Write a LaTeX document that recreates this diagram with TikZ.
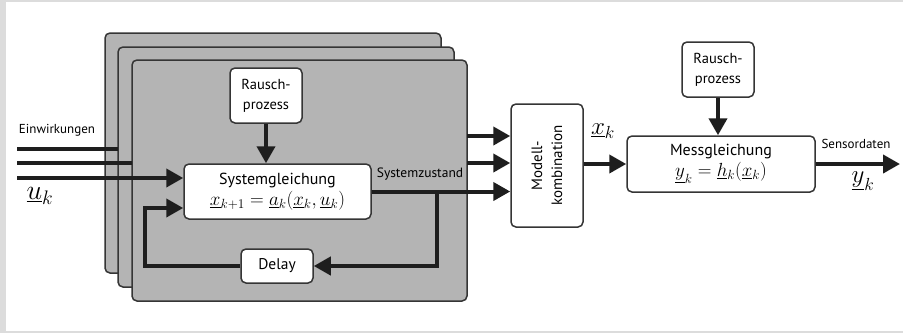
\RequirePackage{fix-cm}
\documentclass[tikz,border=0pt]{standalone}
\usepackage{fontspec}
\setmainfont{PT Sans}
\usetikzlibrary{arrows.meta}
\definecolor{frame}{HTML}{DCDCDC}
\definecolor{stackfill}{HTML}{B4B4B4}
\definecolor{ink}{HTML}{1E1E1E}
\tikzset{
  stackbox/.style={draw=ink!90, fill=stackfill, line width=1.5pt, rounded corners=5pt},
  blk/.style={draw=ink!90, fill=white, line width=1.5pt, rounded corners=5pt, align=center, inner sep=0pt},
  conn/.style={draw=ink, line width=4pt},
  arr/.style={conn, -{Triangle[length=17pt,width=18pt]}},
  lbl/.style={font=\fontsize{13}{15}\selectfont, inner sep=0pt},
  bigmath/.style={font=\fontsize{28}{30}\selectfont, inner sep=0pt}
}
\newcommand{\eqsize}{\fontsize{19}{21}\selectfont}
\begin{document}
\begin{tikzpicture}[x=1pt,y=-1pt]
\useasboundingbox (0,0) rectangle (903,333);
\fill[frame] (0,0) rectangle (903,333);
\fill[white] (6,2) rectangle (903,331);
% stacked boxes
\draw[stackbox] (105,33) rectangle (441,273);
\draw[stackbox] (118,47) rectangle (454,287);
\draw[stackbox] (132,60) rectangle (467,301);
% blocks
\node[blk, minimum width=72pt, minimum height=55pt, font=\fontsize{14.5}{20}\selectfont] (r1) at (266,95.5) {Rausch-\\prozess};
\node[blk, minimum width=187pt, minimum height=55pt, font=\fontsize{16}{21}\selectfont] (sys) at (277.5,191.5) {Systemgleichung\\{\eqsize$\underline{x}_{k+1}=\underline{a}_k(\underline{x}_k,\underline{u}_k)$}};
\node[blk, minimum width=72pt, minimum height=34pt, font=\fontsize{15.5}{17}\selectfont] (delay) at (277,266) {Delay};
\node[blk, minimum width=72pt, minimum height=123pt] (mod) at (547,165.5) {};
\node[rotate=90, align=center, font=\fontsize{15}{20}\selectfont, inner sep=0pt] (modt) at (mod.center) {Modell-\\kombination};
\node[blk, minimum width=188pt, minimum height=56pt, font=\fontsize{16}{21}\selectfont] (mess) at (721,164) {Messgleichung\\{\eqsize$\underline{y}_k=\underline{h}_k(\underline{x}_k)$}};
\node[blk, minimum width=72pt, minimum height=55pt, font=\fontsize{14.5}{20}\selectfont] (r2) at (718,69.5) {Rausch-\\prozess};
% labels
\node[lbl] (einw) at (57,130) {Einwirkungen};
\node[bigmath] (uk) at (40,196) {$\underline{u}_k$};
\node[lbl, font=\fontsize{13.5}{15}\selectfont] (sz) at (420,174) {Systemzustand};
\node[bigmath, font=\fontsize{25}{27}\selectfont] (xk) at (603,131) {$\underline{x}_k$};
\node[lbl] (sd) at (856,144) {Sensordaten};
\node[bigmath, font=\fontsize{25}{27}\selectfont] (yk) at (863,181) {$\underline{y}_k$};
% coordinates
\coordinate (in1) at (17,149);
\coordinate (in1e) at (118,149);
\coordinate (in2) at (17,163);
\coordinate (in2e) at (132,163);
\coordinate (in3) at (17,178);
\coordinate (fb) at (145,208);
\coordinate (br) at (437,191.5);
\coordinate (o1) at (467,136);
\coordinate (o2) at (467,163);
\coordinate (out) at (900,163);
% connectors
\draw[conn] (in1) -- (in1e);
\draw[conn] (in2) -- (in2e);
\draw[arr] (in3) -- (in3 -| sys.west);
\draw[arr] (r1.south) -- (r1.south |- sys.north);
\draw[arr] (delay.west) -| (fb) -- (fb -| sys.west);
\draw[arr] (sys.east) -- (sys.east -| mod.west);
\draw[arr] (br) |- (delay.east);
\draw[arr] (o1) -- (o1 -| mod.west);
\draw[arr] (o2) -- (o2 -| mod.west);
\draw[arr] (mess.west -| mod.east) -- (mess.west);
\draw[arr] (r2.south) -- (r2.south |- mess.north);
\draw[arr] (mess.east) -- (mess.east -| out);
\end{tikzpicture}
\end{document}
